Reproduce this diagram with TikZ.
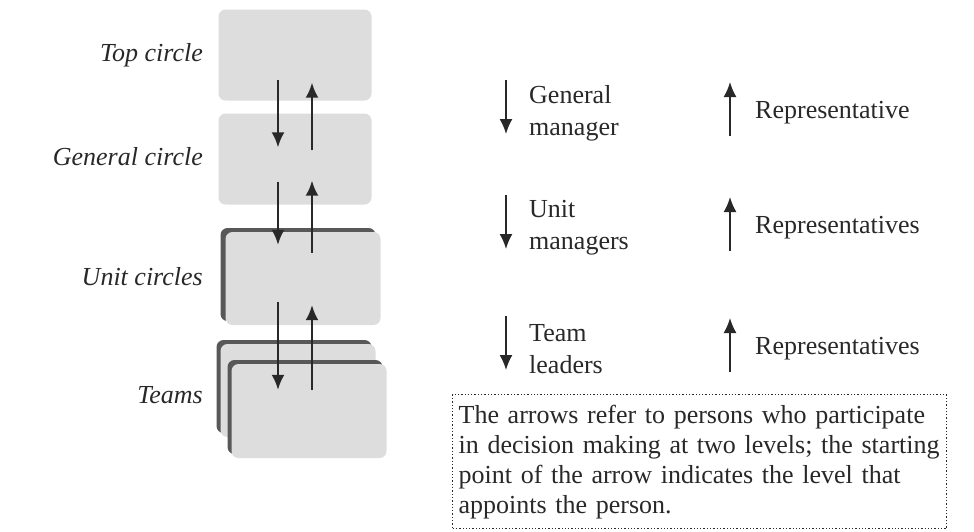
\documentclass[tikz,border=0pt]{standalone}
\usepackage{fontspec}
\setmainfont{Liberation Serif}
\usetikzlibrary{arrows.meta}
\definecolor{cardgrey}{RGB}{221,221,221}
\definecolor{edgegrey}{RGB}{88,88,88}
\definecolor{inkgrey}{RGB}{40,40,40}

\begin{document}
\begin{tikzpicture}[x=1pt,y=-1pt,
    every node/.style={font=\fontsize{26}{32}\selectfont,text=inkgrey},
    card/.style={rectangle,rounded corners=7pt,fill=cardgrey,minimum width=153pt,minimum height=91pt,inner sep=0pt},
    cardedge/.style={card,fill=edgegrey},
    lbl/.style={anchor=east,inner sep=0pt,font=\fontsize{26}{32}\selectfont\itshape},
    arr/.style={draw=inkgrey,line width=2.2pt,-{Latex[length=15pt,width=13pt]}},
    key/.style={anchor=west,align=left,inner sep=0pt},
    note/.style={draw=inkgrey,dotted,line width=1.3pt,align=left,text width=482pt,inner xsep=6pt,inner ysep=5pt,minimum height=134pt,font=\fontsize{26}{30}\selectfont}
  ]
  \useasboundingbox (0,0) rectangle (974,531);

  % circles
  \node[card] (top) at (295,55) {};
  \node[card] (gen) at (295,159) {};
  \node[cardedge,minimum width=155pt,minimum height=93pt] (unit-edge) at (298,274.5) {};
  \node[card,minimum width=155pt,minimum height=93pt] (unit) at (303,278.5) {};
  \node[cardedge,minimum width=155pt,minimum height=93pt] (team-edge) at (294,386.5) {};
  \node[card,minimum width=155pt,minimum height=93pt] (team-back) at (298,390.5) {};
  \node[cardedge,minimum width=155pt,minimum height=94pt] (teams-edge) at (305,407) {};
  \node[card,minimum width=155pt,minimum height=94pt] (teams) at (309,411) {};

  \node[lbl] (top-lbl) at (203,55) {Top circle};
  \node[lbl] (gen-lbl) at (203,157) {General circle};
  \node[lbl] (unit-lbl) at (203,277) {Unit circles};
  \node[lbl] (teams-lbl) at (203,395) {Teams};

  % appointed down, delegated up
  \draw[arr] ([xshift=-17pt,yshift=21pt]top.south) -- ([xshift=-17pt,yshift=-34pt]gen.north);
  \draw[arr] ([xshift=17pt,yshift=-37pt]gen.north) -- ([xshift=17pt,yshift=18pt]top.south);
  \draw[arr] ([xshift=-17pt,yshift=23pt]gen.south) -- ([xshift=-25pt,yshift=-13pt]unit.north);
  \draw[arr] ([xshift=9pt,yshift=-21pt]unit.north) -- ([xshift=17pt,yshift=24pt]gen.south);
  \draw[arr] ([xshift=-25pt,yshift=23pt]unit.south) -- ([xshift=-31pt,yshift=-26pt]teams.north);
  \draw[arr] ([xshift=3pt,yshift=-26pt]teams.north) -- ([xshift=9pt,yshift=20pt]unit.south);

  % legend
  \foreach \n/\y/\who/\rep in {gm/113/{General\\manager}/Representative,
                               um/228/{Unit\\managers}/Representatives,
                               tl/349/{Team\\leaders}/Representatives}{
    \node[key] (\n) at (529,\y) {\who};
    \node[key] (\n-rep) at (755,\y) {\rep};
    \draw[arr,line width=1.8pt] ([xshift=-23pt,yshift=33pt]\n.west) -- ++(0,54);
    \draw[arr,line width=1.8pt] ([xshift=-25pt,yshift=-23pt]\n-rep.west) -- ++(0,-54);
  }

  \node[note,anchor=north west] (note) at (452,394) {The arrows refer to persons who participate\\in decision making at two levels; the starting\\point of the arrow indicates the level that\\appoints the person.};
\end{tikzpicture}
\end{document}
